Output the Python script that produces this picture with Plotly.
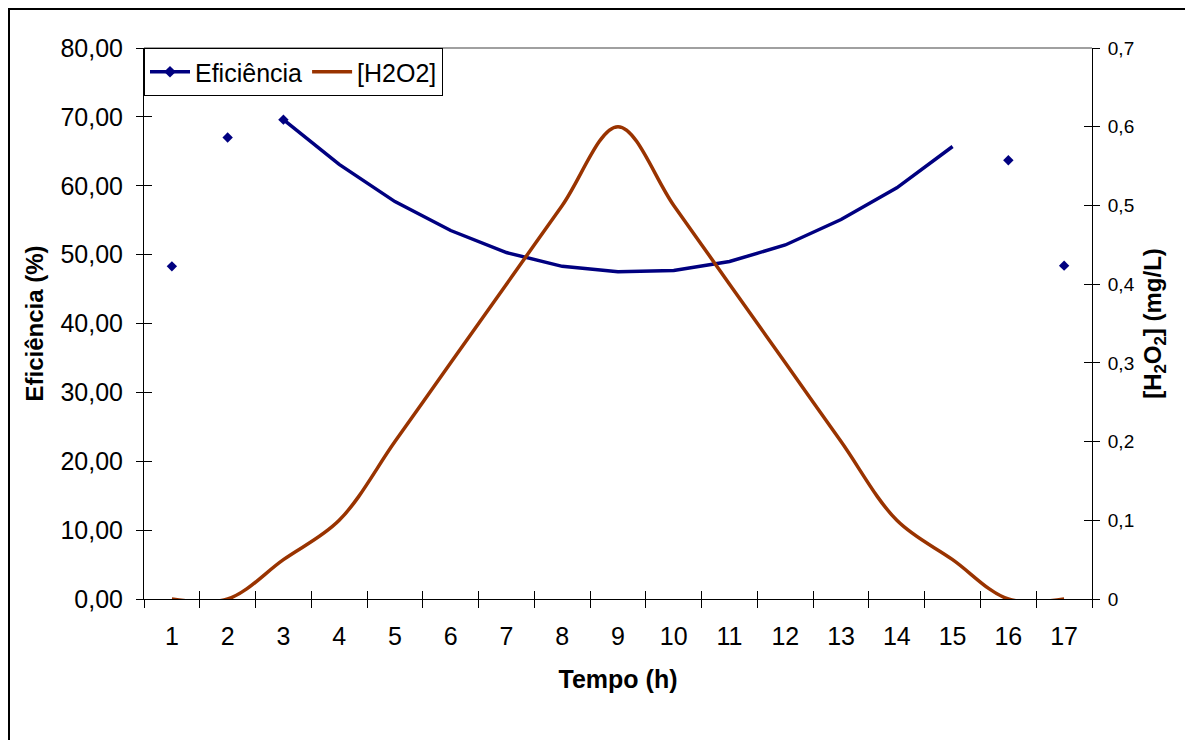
import plotly.graph_objects as go

# ---- data ----
hours = list(range(1, 18))
hour_labels = [str(h) for h in hours]
eficiencia = [48.3, 67.0, 69.6, 63.1, 57.7, 53.5, 50.3, 48.3, 47.5,
              47.7, 49.0, 51.4, 55.1, 59.7, 65.7, 63.7, 48.4]
h2o2 = [0, 0, 0.05, 0.1, 0.2, 0.3, 0.4, 0.5, 0.6,
        0.5, 0.4, 0.3, 0.2, 0.1, 0.05, 0, 0]
# points drawn with connecting line (3..15) vs. isolated markers
line_idx = list(range(2, 15))
marker_idx = [0, 1, 2, 15, 16]

left_ticks = [0, 10, 20, 30, 40, 50, 60, 70, 80]
right_ticks = [0, 0.1, 0.2, 0.3, 0.4, 0.5, 0.6, 0.7]
right_tick_text = ["0", "0,1", "0,2", "0,3", "0,4", "0,5", "0,6", "0,7"]

BLUE = "#000080"
BROWN = "#993300"
FONT = "Liberation Sans, Arial, sans-serif"

W, H = 1193, 740
ML, MR, MT, MB = 136, 109, 40, 149
PW = W - ML - MR
PH = H - MT - MB

fig = go.Figure()

# legend entries
fig.add_trace(go.Scatter(x=[None], y=[None], mode="lines+markers", name="Eficiência",
                         line=dict(color=BLUE, width=3.5),
                         marker=dict(symbol="diamond", size=9, color=BLUE)))
fig.add_trace(go.Scatter(x=hours, y=h2o2, mode="lines", name="[H2O2]",
                         line=dict(color=BROWN, width=3.5, shape="spline", smoothing=1.0),
                         yaxis="y2"))
fig.add_trace(go.Scatter(x=[hours[i] for i in line_idx], y=[eficiencia[i] for i in line_idx],
                         mode="lines", showlegend=False,
                         line=dict(color=BLUE, width=3.5)))
fig.add_trace(go.Scatter(x=[hours[i] for i in marker_idx], y=[eficiencia[i] for i in marker_idx],
                         mode="markers", showlegend=False,
                         marker=dict(symbol="diamond", size=8, color=BLUE)))
# dummy traces to anchor helper tick axes
fig.add_trace(go.Scatter(x=[None], y=[None], xaxis="x2", yaxis="y3", showlegend=False, hoverinfo="skip"))
fig.add_trace(go.Scatter(x=[None], y=[None], xaxis="x3", yaxis="y4", showlegend=False, hoverinfo="skip"))

boundaries = [h - 0.5 for h in hours] + [hours[-1] + 0.5]
xr = [0.5, 17.5]
tickfont = dict(family=FONT, size=25, color="black")

fig.update_layout(
    width=W, height=H,
    margin=dict(l=ML, r=MR, t=MT, b=MB),
    paper_bgcolor="white", plot_bgcolor="white",
    separators=",.",
    font=dict(family=FONT, color="black"),
    showlegend=True,
    legend=dict(orientation="h", x=0, y=1, xanchor="left", yanchor="top",
                bordercolor="black", borderwidth=1, bgcolor="white",
                font=dict(family=FONT, size=25, color="black"),
                itemwidth=40, tracegroupgap=0, traceorder="normal"),
    xaxis=dict(range=xr, tickvals=hours, ticktext=hour_labels, ticks="",
               showgrid=False, zeroline=False, showline=True, linecolor="black", linewidth=1,
               tickfont=tickfont, ticklabelstandoff=15,
               title=dict(text="<b>Tempo (h)</b>", font=dict(family=FONT, size=25, color="black"),
                          standoff=21)),
    xaxis2=dict(range=xr, overlaying="x", anchor="y", side="bottom", tickvals=boundaries,
                ticks="outside", ticklen=8, tickcolor="black", tickwidth=1,
                showticklabels=False, showgrid=False, zeroline=False, showline=False),
    xaxis3=dict(range=xr, overlaying="x", anchor="y", side="bottom", tickvals=boundaries,
                ticks="inside", ticklen=8, tickcolor="black", tickwidth=1,
                showticklabels=False, showgrid=False, zeroline=False, showline=False),
    yaxis=dict(range=[0, 80], tickvals=left_ticks, tickformat=".2f", ticks="outside",
               ticklen=7, tickcolor="black", showgrid=False, zeroline=False,
               showline=True, linecolor="black", linewidth=1, tickfont=tickfont,
               ticklabelstandoff=8,
               title=dict(text="<b>Eficiência (%)</b>", font=dict(family=FONT, size=24, color="black"),
                          standoff=10)),
    yaxis3=dict(range=[0, 80], overlaying="y", anchor="x", side="left", tickvals=left_ticks,
                ticks="inside", ticklen=8, tickcolor="black", showticklabels=False,
                showgrid=False, zeroline=False, showline=False),
    yaxis2=dict(range=[0, 0.7], overlaying="y", anchor="x", side="right",
                tickvals=right_ticks, ticktext=right_tick_text, ticks="outside", ticklen=7,
                tickcolor="black", showgrid=False, zeroline=False, showline=True,
                linecolor="black", linewidth=1,
                tickfont=dict(family=FONT, size=19, color="black"), ticklabelstandoff=4,
                title=dict(text="<b>[H<sub>2</sub>O<sub>2</sub>] (mg/L)</b>",
                           font=dict(family=FONT, size=24, color="black"), standoff=10)),
    yaxis4=dict(range=[0, 0.7], overlaying="y", anchor="x", side="right",
                tickvals=right_ticks, ticks="inside", ticklen=8, tickcolor="black",
                showticklabels=False, showgrid=False, zeroline=False, showline=False),
    shapes=[
        dict(type="line", xref="paper", yref="paper", x0=0, x1=1, y0=1, y1=1,
             line=dict(color="#808080", width=1.5), layer="below"),
        dict(type="rect", xref="paper", yref="paper",
             x0=(0.5 - ML) / PW, x1=(1179.5 - ML) / PW,
             y0=(H - MB - (H + 30)) / PH, y1=(H - MB - 0.5) / PH,
             line=dict(color="black", width=3), fillcolor="rgba(0,0,0,0)", layer="above"),
    ],
)

fig.write_html("out.html")
